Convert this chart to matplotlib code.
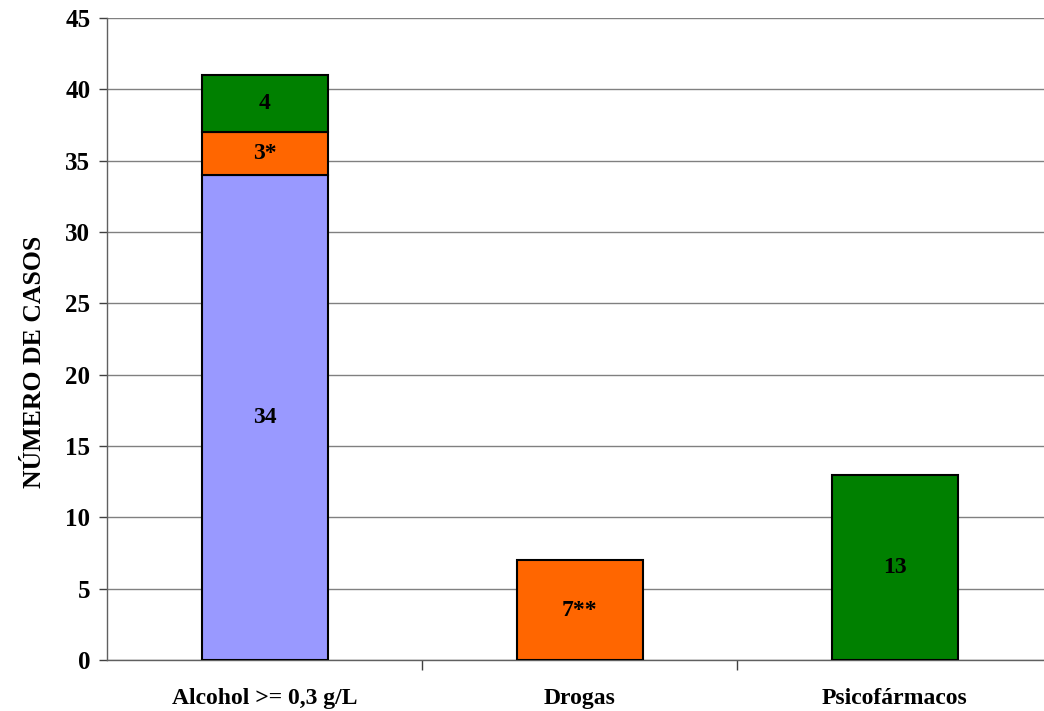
import matplotlib
matplotlib.use("Agg")
import matplotlib.pyplot as plt
import numpy as np

categories = ["Alcohol >= 0,3 g/L", "Drogas", "Psicofármacos"]
serie_azul = [34, 0, 0]
serie_naranja = [3, 7, 0]
serie_verde = [4, 0, 13]
etiquetas_azul = ["34", "", ""]
etiquetas_naranja = ["3*", "7**", ""]
etiquetas_verde = ["4", "", "13"]
yticks = [0, 5, 10, 15, 20, 25, 30, 35, 40, 45]

plt.rcParams['font.family'] = ['Liberation Serif', 'DejaVu Serif']
plt.rcParams['font.weight'] = 'bold'

W, H = 1044, 711
fig = plt.figure(figsize=(W/100, H/100), dpi=100)
left, right, top, bottom = 107, 1052, 18, 660
ax = fig.add_axes([left/W, 1-bottom/H, (right-left)/W, (bottom-top)/H])

x = np.arange(len(categories))
width = 0.4
colors = ["#9999FF", "#FF6600", "#008000"]
series = [serie_azul, serie_naranja, serie_verde]
labels = [etiquetas_azul, etiquetas_naranja, etiquetas_verde]
bottoms = np.zeros(len(categories))
for vals, col, labs in zip(series, colors, labels):
    vals = np.array(vals, dtype=float)
    mask = vals > 0
    ax.bar(x[mask], vals[mask], width, bottom=bottoms[mask], color=col,
           edgecolor="black", linewidth=1.5, zorder=3)
    for xi, v, b, t in zip(x, vals, bottoms, labs):
        if v > 0 and t:
            ax.text(xi, b + v/2, t, ha="center", va="center", fontsize=17,
                    fontweight="bold", zorder=4)
    bottoms += vals

ax.set_xlim(-0.5, 2.5)
ax.set_ylim(0, 45)
ax.set_yticks(yticks)
ax.set_yticklabels([str(v) for v in yticks], fontsize=18, fontweight="bold")
ax.yaxis.grid(True, color="#808080", linewidth=1, zorder=0)
ax.set_axisbelow(True)

ax.set_xticks(x)
ax.set_xticklabels(categories, fontsize=17, fontweight="bold")
ax.tick_params(axis="x", length=0, pad=20)
ax.set_xticks([0.5, 1.5, 2.5], minor=True)
ax.tick_params(axis="x", which="minor", length=7, color="#404040", width=1)
ax.tick_params(axis="y", length=6, color="#404040", width=1, pad=6)

for s in ["top", "right"]:
    ax.spines[s].set_visible(False)
for s in ["left", "bottom"]:
    ax.spines[s].set_color("#606060")
    ax.spines[s].set_linewidth(1)

fig.text(35/W, 1-362/H, "NÚMERO DE CASOS", rotation=90, ha="center", va="center",
         fontsize=18.5, fontweight="bold")

fig.savefig("out.png", dpi=100)
